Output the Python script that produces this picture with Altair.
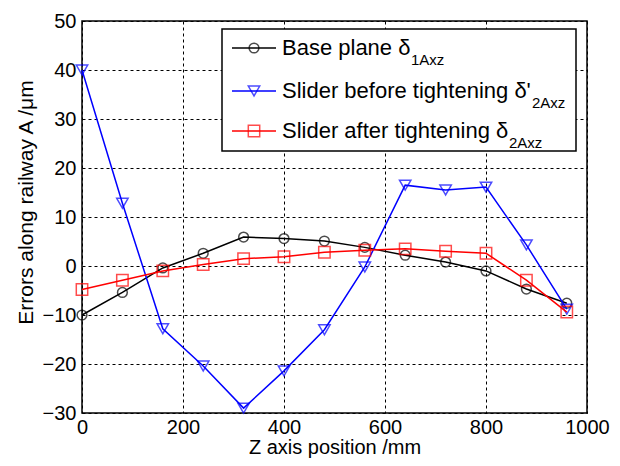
import altair as alt
import pandas as pd

# ---- data ----
z_pos = [0, 80, 160, 240, 320, 400, 480, 560, 640, 720, 800, 880, 960]
base_plane = [-10.0, -5.4, -0.4, 2.6, 5.9, 5.6, 5.1, 3.8, 2.2, 0.8, -1.0, -4.7, -7.6]
slider_before = [40.0, 12.8, -12.8, -20.4, -29.0, -21.4, -13.0, -0.2, 16.5, 15.5, 16.1, 4.3, -8.8]
slider_after = [-4.8, -2.9, -1.0, 0.3, 1.5, 1.9, 2.8, 3.2, 3.5, 3.0, 2.6, -2.9, -9.4]

series_names = ["Base plane", "Slider before tightening", "Slider after tightening"]
legend_main = ["Base plane \u03b4", "Slider before tightening \u03b4'", "Slider after tightening \u03b4"]
legend_sub = ["1Axz", "2Axz", "2Axz"]
colors = ["#000000", "#0000ff", "#ff0000"]
shapes = ["circle", "triangle-down", "square"]
x_ticks = [0, 200, 400, 600, 800, 1000]
y_ticks = [-30, -20, -10, 0, 10, 20, 30, 40, 50]

FONT = "Liberation Sans"

x_enc = alt.X(
    "z:Q",
    scale=alt.Scale(domain=[0, 1000], nice=False),
    axis=alt.Axis(values=x_ticks, format="d", title="Z axis position /mm", labelFontSize=20,
                  titleFontSize=20, labelFont=FONT, titleFont=FONT, ticks=False,
                  labelPadding=4, titlePadding=0, grid=True, domain=False,
                  labelColor="#000", titleColor="#000", titleFontWeight="normal",
                  labelFlush=False),
)
y_enc = alt.Y(
    "err:Q",
    scale=alt.Scale(domain=[-30, 50], nice=False),
    axis=alt.Axis(values=y_ticks, format="d", title="Errors along railway A /\u03bcm", labelFontSize=20,
                  titleFontSize=21, labelFont=FONT, titleFont=FONT, ticks=False,
                  labelPadding=6, titlePadding=6, titleY=181, grid=True, domain=False,
                  labelColor="#000", titleColor="#000", titleFontWeight="normal",
                  labelFlush=False),
)

layers = []
sizes = [95, 130, 130]
for name, vals, col, shp, sz in zip(series_names, [base_plane, slider_before, slider_after], colors, shapes, sizes):
    d = pd.DataFrame({"z": z_pos, "err": vals, "series": name})
    base = alt.Chart(d).encode(x=x_enc, y=y_enc)
    layers.append(base.mark_line(color=col, strokeWidth=1.5))
    layers.append(base.mark_point(shape=shp, filled=False, color=col, size=sz, strokeWidth=1.5))

# ---- legend box (top-right, inside the plot) ----
dummy = pd.DataFrame({"a": [0]})
layers.append(
    alt.Chart(dummy).mark_rect(fill="white", stroke="black", strokeWidth=1.5).encode(
        x=alt.value(140), x2=alt.value(494), y=alt.value(8), y2=alt.value(130))
)
row_y = [27, 70, 110]
sub_x = [329, 450, 427]
for i in range(3):
    ry = row_y[i]
    layers.append(alt.Chart(dummy).mark_rule(color=colors[i], strokeWidth=1.5).encode(
        x=alt.value(150), x2=alt.value(194), y=alt.value(ry)))
    layers.append(alt.Chart(dummy).mark_point(shape=shapes[i], filled=False, color=colors[i],
                                              size=sizes[i], strokeWidth=1.5).encode(
        x=alt.value(172), y=alt.value(ry)))
    layers.append(alt.Chart(dummy).mark_text(text=legend_main[i], align="left", baseline="middle",
                                             fontSize=22, font=FONT, color="black").encode(
        x=alt.value(200), y=alt.value(ry)))
    layers.append(alt.Chart(dummy).mark_text(text=legend_sub[i], align="left", baseline="middle",
                                             fontSize=15, font=FONT, color="black").encode(
        x=alt.value(sub_x[i]), y=alt.value(ry + 12)))

chart = alt.layer(*layers).properties(
    width=505, height=392,
    autosize=alt.AutoSizeParams(type="none"),
    padding={"left": 74, "top": 13, "right": 25, "bottom": 45},
    background="white",
).configure_view(
    stroke="black", strokeWidth=1.5
).configure_axis(
    gridColor="#000000", gridDash=[3, 3], gridWidth=1, gridOpacity=1
)

chart.save("out.html", embed_options={"renderer": "svg", "actions": False})
